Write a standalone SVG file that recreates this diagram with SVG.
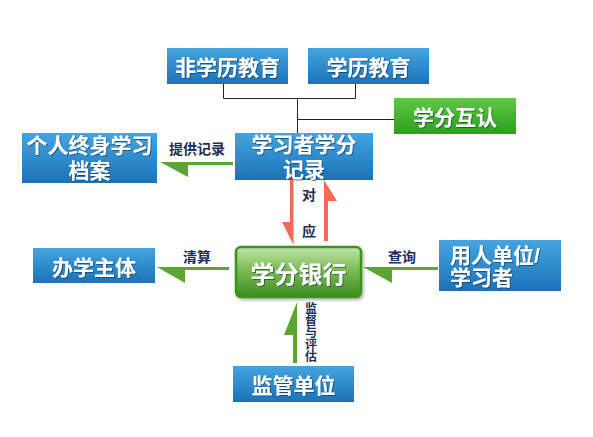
<svg xmlns="http://www.w3.org/2000/svg" width="593" height="437" viewBox="0 0 593 437">
  <defs>
    <linearGradient id="gBlue" x1="0" y1="0" x2="0" y2="1">
      <stop offset="0" stop-color="#45a4de"/>
      <stop offset="0.5" stop-color="#2f8ccd"/>
      <stop offset="1" stop-color="#1c72b6"/>
    </linearGradient>
    <linearGradient id="gGreen" x1="0" y1="0" x2="0" y2="1">
      <stop offset="0" stop-color="#5ccb42"/>
      <stop offset="1" stop-color="#2e9c1e"/>
    </linearGradient>
    <linearGradient id="gBank" x1="0" y1="0" x2="0" y2="1">
      <stop offset="0" stop-color="#c2e6ab"/>
      <stop offset="0.45" stop-color="#7cbd57"/>
      <stop offset="1" stop-color="#3c8c1f"/>
    </linearGradient>
    <filter id="ts" x="-10%" y="-20%" width="120%" height="140%">
      <feDropShadow dx="1" dy="1" stdDeviation="0.6" flood-color="#0a2a4a" flood-opacity="0.6"/>
    </filter>
    <filter id="bs" x="-10%" y="-10%" width="125%" height="130%">
      <feDropShadow dx="1.5" dy="2" stdDeviation="1.5" flood-color="#000" flood-opacity="0.3"/>
    </filter>
  </defs>
  <style>
    .blue { fill: url(#gBlue); }
    .green { fill: url(#gGreen); }
    .t { font-family: "Noto Sans CJK SC", "Noto Sans", sans-serif; font-weight: bold; fill: #ffffff; font-size: 21px; text-anchor: middle; dominant-baseline: central; filter: url(#ts); }
    .t2 { font-family: "Liberation Sans", "Noto Sans CJK SC", sans-serif; }
    .lbl { font-family: "Noto Sans CJK SC", "Noto Sans", sans-serif; font-weight: bold; fill: #1e2d55; font-size: 14px; text-anchor: middle; dominant-baseline: central; }
    .vlbl { font-family: "Noto Sans CJK SC", "Noto Sans", sans-serif; font-weight: bold; fill: #1e2d55; font-size: 12px; writing-mode: vertical-rl; text-anchor: start; }
    .line { fill: none; stroke: #222; stroke-width: 1; }
    .ga { fill: #5ca533; }
    .ra { fill: #f26b57; }
  </style>
  <rect width="593" height="437" fill="#ffffff"/>

  <g id="connectors">
    <path class="line" d="M223.5,84 V98.5 H355.5 V84"/>
    <path class="line" d="M297.5,98.5 V133"/>
    <path class="line" d="M297.5,119.5 H394"/>
    <path class="ga" d="M233,162 H160 L188,177 V165 H233 Z"/>
    <path class="ga" d="M229,267 H157 L185,283 V270 H229 Z"/>
    <path class="ga" d="M438,267 H363 L392,283 V270 H438 Z"/>
    <path class="ra" d="M290,180 H293.5 V245 L282,222 H290 Z"/>
    <path class="ra" d="M324,241 V180 L337,201 H328 V241 Z"/>
    <path class="ga" d="M297,363 V302 L284,335 H293 V363 Z"/>
    <text class="lbl" x="197" y="148">提供记录</text>
    <text class="lbl" x="197" y="256">清算</text>
    <text class="lbl" x="402" y="256">查询</text>
    <text class="lbl" x="309" y="194">对</text>
    <text class="lbl" x="309" y="230">应</text>
    <text class="vlbl" x="311" y="302">监督与评估</text>
  </g>

  <g id="n-feixueli">
    <rect class="blue" x="167" y="48" width="121" height="36"/>
    <text class="t" x="227.5" y="66">非学历教育</text>
  </g>
  <g id="n-xueli">
    <rect class="blue" x="308" y="48" width="121" height="36"/>
    <text class="t" x="368.5" y="66">学历教育</text>
  </g>
  <g id="n-huren">
    <rect class="green" x="394" y="98" width="122" height="36"/>
    <text class="t" x="455" y="116">学分互认</text>
  </g>
  <g id="n-jilu">
    <rect class="blue" x="235" y="133" width="138" height="47"/>
    <text class="t t2" x="304" y="144">学习者学分</text>
    <text class="t t2" x="304" y="169">记录</text>
  </g>
  <g id="n-dangan">
    <rect class="blue" x="22" y="133" width="135" height="50"/>
    <text class="t t2" x="89.5" y="145">个人终身学习</text>
    <text class="t t2" x="89.5" y="170">档案</text>
  </g>
  <g id="n-banxue">
    <rect class="blue" x="33" y="248" width="122" height="35"/>
    <text class="t" x="94" y="265.5">办学主体</text>
  </g>
  <g id="n-bank">
    <rect x="236" y="247" width="125" height="50" rx="5" fill="url(#gBank)" stroke="#3f901f" stroke-width="2.5" filter="url(#bs)"/>
    <text class="t" x="298.5" y="272" style="font-size:24px">学分银行</text>
  </g>
  <g id="n-yongren">
    <rect class="blue" x="439" y="240" width="122" height="51"/>
    <text class="t t2" x="450" y="255" style="text-anchor:start">用人单位/</text>
    <text class="t t2" x="450" y="277" style="text-anchor:start">学习者</text>
  </g>
  <g id="n-jianguan">
    <rect class="blue" x="233" y="366" width="121" height="36"/>
    <text class="t" x="293.5" y="384">监管单位</text>
  </g>
</svg>
